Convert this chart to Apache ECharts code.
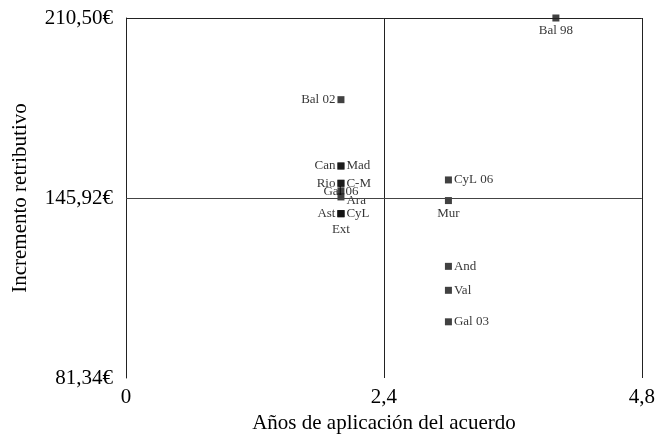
<!DOCTYPE html>
<html>
<head>
<meta charset="utf-8">
<script src="https://cdn.jsdelivr.net/npm/echarts@6/dist/echarts.min.js"></script>
<style>
html,body{margin:0;padding:0;background:#fff;}
#c{width:658px;height:439px;}
</style>
</head>
<body>
<div id="c"></div>
<script>
// ---- data ----
var names = ['Bal 98','Bal 02','Can','Mad','Rio','C-M','Gal 06','Ara','Ast','CyL','Ext','CyL 06','Mur','And','Val','Gal 03'];
var years = [4, 2, 2, 2, 2, 2, 2, 2, 2, 2, 2, 3, 3, 3, 3, 3];
var increments = [210.5, 181.2, 157.4, 157.4, 151.2, 151.2, 148.5, 146.3, 140.3, 140.3, 140.3, 152.4, 145.0, 121.4, 112.8, 101.5];
var xTicks = [0, 2.4, 4.8];
var yTicks = [81.34, 145.92, 210.50];
var xTitle = 'Años de aplicación del acuerdo';
var yTitle = 'Incremento retributivo';

// ---- label placement (styling) ----
var placement = {
  'Bal 98': 'bottom', 'Bal 02': 'left', 'Can': 'left', 'Mad': 'right',
  'Rio': 'left', 'C-M': 'right', 'Gal 06': 'inside', 'Ara': 'right',
  'Ast': 'left', 'CyL': 'right', 'Ext': 'bottom', 'CyL 06': 'right',
  'Mur': 'bottom', 'And': 'right', 'Val': 'right', 'Gal 03': 'right'
};
var extraOffset = { 'Ara': [0, 4], 'Gal 06': [0, 1], 'Ext': [0, 3] };

var FONT = '"Liberation Serif", "DejaVu Serif", serif';
function fmt(v){ return v.toFixed(2).replace('.', ',') + '€'; }

var points = names.map(function(n, i){
  var p = placement[n];
  return {
    name: n,
    value: [years[i], increments[i]],
    label: {
      show: true, position: p, formatter: n,
      distance: p === 'bottom' ? 3 : 2,
      offset: extraOffset[n] || [0, 0]
    }
  };
});

var chart = echarts.init(document.getElementById('c'), null, {renderer: 'canvas'});
chart.setOption({
  animation: false,
  backgroundColor: '#fff',
  textStyle: { fontFamily: FONT },
  grid: { left: 126, right: 15, top: 18, bottom: 55, containLabel: false },
  xAxis: {
    type: 'value', min: 0, max: 4.8, interval: 2.4,
    name: xTitle, nameLocation: 'middle', nameGap: 35,
    nameTextStyle: { fontFamily: FONT, fontSize: 21, color: '#000' },
    axisLine: { show: false }, axisTick: { show: false },
    axisLabel: {
      customValues: xTicks, fontFamily: FONT, fontSize: 21, color: '#000', margin: 9,
      formatter: function(v){ return String(v).replace('.', ','); }
    },
    splitLine: { show: true, lineStyle: { color: '#222', width: 1 } }
  },
  yAxis: {
    type: 'value', min: yTicks[0], max: yTicks[2],
    name: yTitle, nameLocation: 'middle', nameGap: 95,
    nameTextStyle: { fontFamily: FONT, fontSize: 21, color: '#000' },
    axisLine: { show: true, lineStyle: { color: '#222', width: 1 } },
    axisTick: { show: false },
    axisLabel: {
      customValues: yTicks, fontFamily: FONT, fontSize: 21, color: '#000', margin: 13,
      formatter: function(v){ return fmt(v); }
    },
    splitLine: { show: false }
  },
  series: [{
    type: 'scatter',
    symbol: 'rect', symbolSize: 7,
    itemStyle: { color: '#111' },
    label: { fontFamily: FONT, fontSize: 13, color: '#000' },
    data: points,
    z: 3,
    markLine: {
      silent: true, symbol: 'none', label: { show: false },
      lineStyle: { color: '#444', width: 1, type: 'solid' },
      data: [ { yAxis: yTicks[1] }, { yAxis: yTicks[2], lineStyle: { color: '#222' } } ]
    }
  }]
});
</script>
</body>
</html>
